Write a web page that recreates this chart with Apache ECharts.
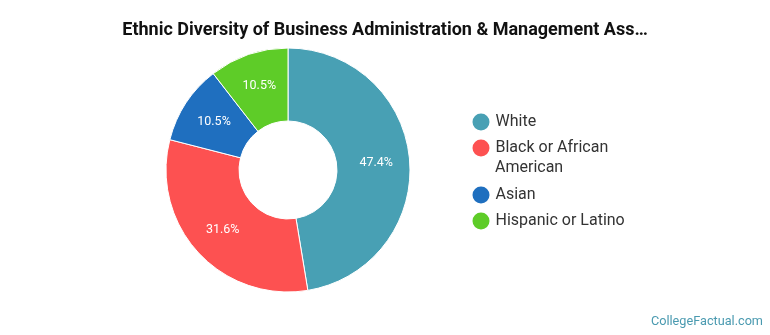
<!DOCTYPE html>
<html><head><meta charset="utf-8">
<script src="https://cdn.jsdelivr.net/npm/echarts@6/dist/echarts.min.js"></script>
<style>html,body{margin:0;padding:0;background:#fff}#c{width:770px;height:335px}</style>
</head><body><div id="c"></div>
<script>
const categories = ["White", "Black or African American", "Asian", "Hispanic or Latino"];
const shares = [47.4, 31.6, 10.5, 10.5];
const colors = ["#48a0b4", "#fd5151", "#1f6fbf", "#5ecc28"];
const legendLabels = ["White", "Black or African", "Asian", "Hispanic or Latino"];
const legendTops = [111.5, 137.5, 184.5, 210.5];

const chart = echarts.init(document.getElementById('c'));
chart.setOption({
  animation: false,
  title: {
    text: "Ethnic Diversity of Business Administration & Management Ass…",
    left: 'center', top: 16,
    textStyle: {fontFamily: 'Roboto', fontSize: 18, fontWeight: 'bold', color: '#111'}
  },
  legend: categories.map((c, i) => ({
    data: [c], left: 470.5, top: legendTops[i], orient: 'vertical', padding: 0,
    icon: 'circle', itemWidth: 19, itemHeight: 19, itemGap: 0,
    selectedMode: false,
    formatter: () => legendLabels[i],
    textStyle: {fontFamily: 'Roboto', fontSize: 16, color: '#333'}
  })),
  graphic: [
    {type: 'text', left: 495, top: 160, style: {text: 'American', font: '16px Roboto', fill: '#333'}},
    {type: 'text', right: 7, top: 315, style: {text: 'CollegeFactual.com', font: '12.7px Roboto', fill: '#4a9ab0'}}
  ],
  series: [{
    type: 'pie',
    center: [288, 170],
    radius: [49, 122],
    startAngle: 90,
    clockwise: true,
    itemStyle: {borderColor: '#fff', borderWidth: 1},
    label: {show: true, position: 'inside', formatter: '{c}%', color: '#fff', fontFamily: 'Roboto', fontSize: 12.5},
    labelLine: {show: false},
    emphasis: {disabled: true},
    data: categories.map((c, i) => ({name: c, value: shares[i], itemStyle: {color: colors[i]}}))
  }]
});
</script></body></html>
